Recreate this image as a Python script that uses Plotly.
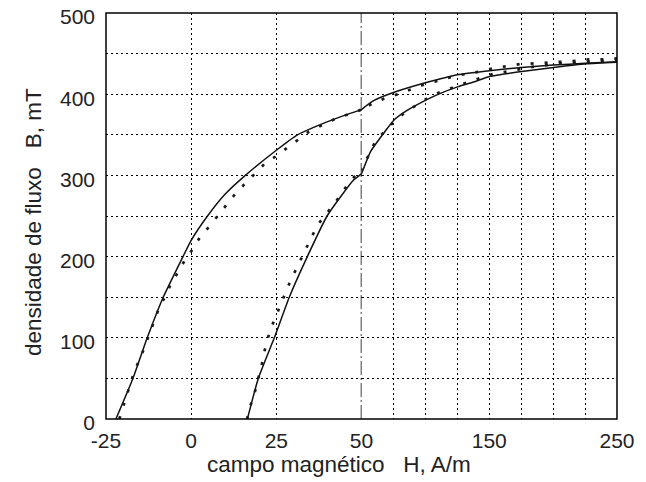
import plotly.graph_objects as go

# curva cheia 1 (ramo esquerdo)
h_cheia_1 = [-22.1, -17.1, -12.9, -8.2, -2.4, 0, 4.8, 10, 15.9, 25, 31.2, 37, 41.8, 50,
             59.5, 75, 100, 125, 150, 175, 200, 225, 250]
b_cheia_1 = [0, 50, 100, 150, 200, 220, 250, 277, 300, 331, 350, 361, 369, 381,
             392, 402, 414, 424, 429, 433, 436, 438, 440]

# curva pontilhada 1
h_pont_1 = [-21.1, -20.6, -19.4, -18.1, -16.8, -15.3, -13.8, -12.3, -10.9, -9.4, -7.6, -5.9, -3.8,
            -1.8, 0.6, 2.6, 5.3, 7.9, 10.3, 12.9, 15.6, 18.5, 21.5, 24.7, 27.9, 31.2, 34.6,
            38.5, 42, 46, 50, 59, 70, 80.5, 90.6, 100.8, 111, 122, 132, 143, 153, 164, 174,
            185, 196, 207, 218, 229, 239, 250]
b_pont_1 = [0, 7, 23, 40, 57, 71, 87, 104, 121, 137, 151, 167, 181,
            196, 210, 224, 237, 251, 264, 277, 289, 301, 314, 323, 333, 344, 354,
            362, 369, 375, 381, 389, 396, 401, 407, 413, 417, 422, 425, 428, 432, 435, 437,
            438, 439, 440, 441, 443, 443, 444]

# curva cheia 2 (ramo direito)
h_cheia_2 = [16.5, 19.7, 24.4, 28.8, 34.1, 39.9, 47.6, 50, 57, 67.4, 75.3, 85.7, 100.8,
             111.7, 125.2, 137.8, 150.8, 175.5, 200.3, 225.8, 250]
b_cheia_2 = [0, 50, 100, 150, 200, 250, 294, 302, 329, 352, 368, 380, 393,
             401, 409, 415, 422, 428, 433, 437.5, 439.5]

# curva pontilhada 2
h_pont_2 = [16.4, 17.55, 18.8, 19.8, 20.8, 21.6, 22.7, 24.0, 25.5, 27.0, 28.6, 30.4, 32.1, 33.8,
            35.7, 37.6, 40.1, 42.6, 45.1, 47.6, 50.8, 55.7, 60.9, 68.8, 75.8, 84.4, 93.5,
            102.6, 112, 123, 132.6, 143, 153.4, 163.8, 174.5, 185, 196, 207, 218, 229, 239, 250]
b_pont_2 = [0, 18.5, 34.8, 51.3, 68.5, 84.9, 102, 117.7, 133, 149.7, 164.8, 181, 195.6, 211,
            227, 241.5, 255, 268.5, 283.8, 297, 311, 325, 342, 355, 367, 378, 387,
            396, 403, 409, 415, 420, 425, 428, 431, 434, 436, 438, 439, 440, 441, 443]

x_ticks_esq = [-25, 0, 25, 50]
x_grade_esq = [0, 25]
x_ticks_dir = [150, 250]
x_grade_dir = [75, 100, 125, 150, 175, 200, 225]
y_ticks = [0, 50, 100, 150, 200, 250, 300, 350, 400, 450, 500]
y_rotulos = ["0", "", "100", "", "200", "", "300", "", "400", "", "500"]

FONTE = "Liberation Sans, Arial, sans-serif"
PRETO = "#111111"
GRADE = dict(showgrid=True, gridcolor="black", gridwidth=1.2, griddash="2px,3px")

fig = go.Figure()

curvas = [
    (h_cheia_1, b_cheia_1, dict(color=PRETO, width=1.5, shape="spline", smoothing=0.5)),
    (h_pont_1, b_pont_1, dict(color="#1a1a1a", width=2.7, dash="3px,11px")),
    (h_cheia_2, b_cheia_2, dict(color=PRETO, width=1.5, shape="spline", smoothing=0.5)),
    (h_pont_2, b_pont_2, dict(color="#1a1a1a", width=2.7, dash="3px,11px")),
]
# cada curva vai nas duas metades do eixo (escala quebrada em H = 50)
for h, b, estilo in curvas:
    for eixo in ("x", "x2"):
        fig.add_trace(go.Scatter(x=h, y=b, mode="lines", line=estilo,
                                 xaxis=eixo, yaxis="y", hoverinfo="skip"))

# a página tem 8 px de margem no body, por isso a figura é 8 px menor
fig.update_layout(
    template="none",
    width=638, height=474,
    margin=dict(l=98, r=29, t=4.5, b=63),
    paper_bgcolor="white", plot_bgcolor="white",
    showlegend=False,
    font=dict(family=FONTE, size=21, color="#222222"),
    xaxis=dict(domain=[0, 0.5], range=[-25, 50], tickmode="array",
               tickvals=x_ticks_esq, ticktext=[str(v) for v in x_ticks_esq],
               showgrid=False, zeroline=False, showline=False, ticks="",
               automargin=False, ticklabelstandoff=7, ticklabeloverflow="allow",
               minor=dict(tickmode="array", tickvals=x_grade_esq, **GRADE)),
    xaxis2=dict(domain=[0.5, 1], range=[50, 250], anchor="y", tickmode="array",
                tickvals=x_ticks_dir, ticktext=[str(v) for v in x_ticks_dir],
                showgrid=False, zeroline=False, showline=False, ticks="",
                automargin=False, ticklabelstandoff=7, ticklabeloverflow="allow",
                minor=dict(tickmode="array", tickvals=x_grade_dir, **GRADE)),
    yaxis=dict(range=[0, 500], tickmode="array", tickvals=y_ticks, ticktext=y_rotulos,
               zeroline=False, showline=False, ticks="", automargin=False,
               ticklabelstandoff=10, ticklabelshift=4, ticklabeloverflow="allow", **GRADE),
)

# linha tracejada em H = 50 e moldura
fig.add_shape(type="line", xref="x", yref="paper", x0=50, x1=50, y0=0, y1=1,
              line=dict(color="black", width=1.5, dash="14px,3px,2px,3px"))
fig.add_shape(type="rect", xref="paper", yref="paper", x0=0, x1=1, y0=0, y1=1,
              line=dict(color="black", width=1.5))

fig.add_annotation(text="campo magnético\u00a0\u00a0\u00a0H, A/m", xref="paper", yref="paper",
                   x=0.455, y=-0.113, xanchor="center", yanchor="middle",
                   showarrow=False, font=dict(size=22.5))
fig.add_annotation(text="densidade de fluxo\u00a0\u00a0\u00a0B, mT", xref="paper", yref="paper",
                   x=-0.143, y=0.485, xanchor="center", yanchor="middle", textangle=-90,
                   showarrow=False, font=dict(size=22.5))

fig.write_html("out.html")
